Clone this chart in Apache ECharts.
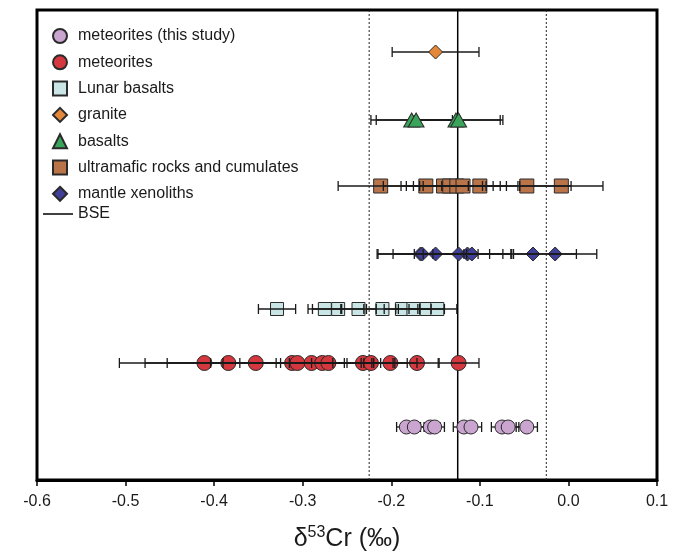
<!DOCTYPE html>
<html><head><meta charset="utf-8">
<script src="https://cdn.jsdelivr.net/npm/echarts@6/dist/echarts.min.js"></script>
<style>html,body{margin:0;padding:0;background:#fff}#c{width:683px;height:554px}</style>
</head><body><div id="c"></div>
<script>
// x-axis ticks
const xTicks = [-0.6, -0.5, -0.4, -0.3, -0.2, -0.1, 0.0, 0.1];
// BSE reference value and its bounds
const bseValue = -0.125;
const bseLow = -0.225;
const bseHigh = -0.025;
// row positions (arbitrary vertical units)
const rowThisStudy = 53, rowMeteorites = 117, rowLunar = 171, rowMantle = 226,
      rowUltramafic = 294, rowBasalts = 360, rowGranite = 428;

// meteorites (this study)
const thisStudyVals = [-0.183, -0.174, -0.156, -0.151, -0.118, -0.110, -0.075, -0.068, -0.047];
const thisStudyErr  = [0.011, 0.011, 0.011, 0.011, 0.012, 0.012, 0.012, 0.012, 0.012];
// meteorites (literature)
const meteoritesVals = [-0.411, -0.384, -0.353, -0.312, -0.306, -0.290, -0.278, -0.271, -0.232, -0.223, -0.201, -0.171, -0.124];
const meteoritesErr  = [0.096, 0.094, 0.100, 0.092, 0.084, 0.040, 0.047, 0.100, 0.034, 0.011, 0.019, 0.025, 0.023];
// Lunar basalts
const lunarVals = [-0.329, -0.275, -0.260, -0.237, -0.210, -0.188, -0.175, -0.160, -0.148];
const lunarErr  = [0.021, 0.019, 0.029, 0.020, 0.018, 0.020, 0.020, 0.020, 0.022];
// granite
const graniteVals = [-0.150];
const graniteErr  = [0.049];
// basalts
const basaltsVals = [-0.177, -0.172, -0.127, -0.124];
const basaltsErr  = [0.046, 0.045, 0.050, 0.050];
// ultramafic rocks and cumulates
const ultramaficVals = [-0.212, -0.161, -0.141, -0.134, -0.126, -0.119, -0.100, -0.047, -0.008];
const ultramaficErr  = [0.048, 0.048, 0.048, 0.049, 0.049, 0.049, 0.043, 0.050, 0.047];
// mantle xenoliths
const mantleVals = [-0.167, -0.165, -0.150, -0.124, -0.114, -0.109, -0.040, -0.015];
const mantleErr  = [0.049, 0.050, 0.048, 0.050, 0.050, 0.044, 0.049, 0.047];

const groups = [
  {name:'meteorites (this study)', vals:thisStudyVals, err:thisStudyErr, row:rowThisStudy, symbol:'circle', size:14, color:'#c9a5d0', barTop:false},
  {name:'meteorites', vals:meteoritesVals, err:meteoritesErr, row:rowMeteorites, symbol:'circle', size:15, color:'#d4383e', barTop:true},
  {name:'Lunar basalts', vals:lunarVals, err:lunarErr, row:rowLunar, symbol:'rect', size:13, color:'#c9e5e5', barTop:true},
  {name:'granite', vals:graniteVals, err:graniteErr, row:rowGranite, symbol:'diamond', size:14, color:'#e3883a', barTop:false},
  {name:'basalts', vals:basaltsVals, err:basaltsErr, row:rowBasalts, symbol:'triangle', size:[16,14], color:'#3aa55a', barTop:false},
  {name:'ultramafic rocks and cumulates', vals:ultramaficVals, err:ultramaficErr, row:rowUltramafic, symbol:'rect', size:14, color:'#b9744a', barTop:true},
  {name:'mantle xenoliths', vals:mantleVals, err:mantleErr, row:rowMantle, symbol:'diamond', size:14, color:'#3f3f98', barTop:true}
];

function renderBar(params, api){
  const x = api.value(0), y = api.value(1), e = api.value(2);
  const a = api.coord([x - e, y]), b = api.coord([x + e, y]);
  const h = 5;
  const st = {stroke:'#1a1a1a', lineWidth:1.3};
  return {type:'group', children:[
    {type:'line', shape:{x1:a[0], y1:a[1], x2:b[0], y2:b[1]}, style:st},
    {type:'line', shape:{x1:a[0], y1:a[1]-h, x2:a[0], y2:a[1]+h}, style:st},
    {type:'line', shape:{x1:b[0], y1:b[1]-h, x2:b[0], y2:b[1]+h}, style:st}
  ]};
}

const series = [];
const yMin = 0, yMax = 470;
series.push({name:'BSE', type:'line', data:[[bseValue,yMin],[bseValue,yMax]], symbol:'none', silent:true,
  lineStyle:{color:'#000', width:1.5}, itemStyle:{color:'#000'}, z:1});
series.push({name:'bseLow', type:'line', data:[[bseLow,yMin],[bseLow,yMax]], symbol:'none', silent:true,
  lineStyle:{color:'#222', width:1, type:[2,2]}, z:1});
series.push({name:'bseHigh', type:'line', data:[[bseHigh,yMin],[bseHigh,yMax]], symbol:'none', silent:true,
  lineStyle:{color:'#222', width:1, type:[2,2]}, z:1});

groups.forEach((g, i) => {
  series.push({
    name: g.name, type:'scatter', symbol:g.symbol, symbolSize:g.size,
    data: g.vals.map(v => [v, g.row]),
    itemStyle:{color:g.color, borderColor:'#2a2a2a', borderWidth:1, opacity:1},
    z:3
  });
  series.push({
    name:'err' + i, type:'custom', renderItem:renderBar, silent:true,
    encode:{x:0, y:1},
    data: g.vals.map((v, k) => [v, g.row, g.err[k]]),
    z: g.barTop ? 4 : 2
  });
});

const FF = '"Liberation Sans", Arial, sans-serif';
const chart = echarts.init(document.getElementById('c'), null, {renderer:'canvas'});
chart.setOption({
  animation:false,
  backgroundColor:'#fff',
  textStyle:{fontFamily:FF},
  grid:{left:37, right:26, top:10, bottom:74, show:true, borderColor:'#000', borderWidth:3, backgroundColor:'transparent',
        containLabel:false, outerBoundsMode:'none'},
  legend:[
    {data:groups.map(g => g.name), orient:'vertical', left:52, top:28, padding:0, itemWidth:14, itemHeight:14, itemGap:10.3,
     textStyle:{fontSize:16, color:'#1a1a1a', padding:[0,0,0,6], fontFamily:FF}, selectedMode:false},
    {data:[{name:'BSE', icon:'path://M0,0L30,0L30,1.5L0,1.5Z'}], orient:'vertical', left:43, top:206, padding:0, itemWidth:30, itemHeight:14,
     textStyle:{fontSize:16, color:'#1a1a1a', fontFamily:FF}, selectedMode:false}
  ],
  xAxis:{
    type:'value', min:xTicks[0], max:xTicks[xTicks.length-1], interval:0.1,
    axisLine:{show:true, lineStyle:{color:'#000', width:3}},
    axisTick:{show:true, inside:false, length:6, lineStyle:{color:'#000', width:1.5}},
    axisLabel:{fontSize:16, color:'#1a1a1a', margin:14, formatter: v => (Math.abs(v) < 1e-9 ? 0 : v).toFixed(1)},
    splitLine:{show:false},
    name:'{d|\u03b4}{s|53}{d|Cr (\u2030)}', nameLocation:'middle', nameGap:44,
    nameTextStyle:{rich:{
      d:{fontSize:25, color:'#1a1a1a', lineHeight:30, fontFamily:FF},
      s:{fontSize:16, color:'#1a1a1a', lineHeight:16, padding:[0,0,12,0], fontFamily:FF}
    }}
  },
  yAxis:{type:'value', min:yMin, max:yMax, show:false, splitLine:{show:false}},
  series: series
});
</script>
</body></html>
